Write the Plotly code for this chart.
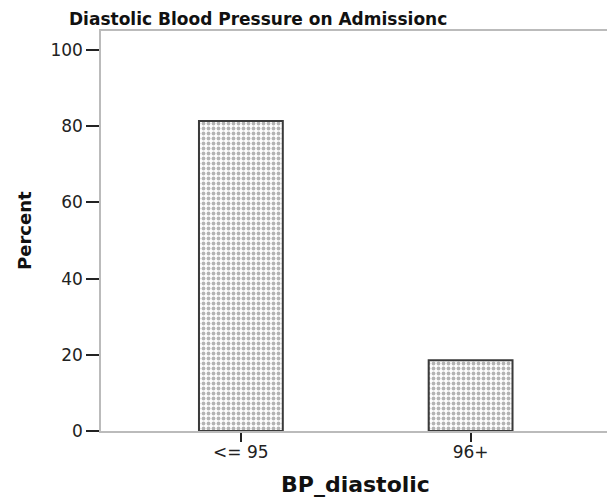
import plotly.graph_objects as go

categories = ["<= 95", "96+"]
percent = [81.4, 18.6]
y_ticks = [0, 20, 40, 60, 80, 100]

FONT = "DejaVu Sans"
OFF = 7  # page body margin offset
W, H = 615 - OFF, 500 - OFF
L, T = 100 - OFF, 30 - OFF
R = 0
B = H - (430 - OFF)
PW, PH = W - L - R, H - T - B


def px_x(px):
    return (px - OFF - L) / PW


def px_y(py):
    return (H - B - (py - OFF)) / PH


fig = go.Figure(go.Bar(
    x=[0, 1],
    y=percent,
    width=0.365,
    marker=dict(
        color="white",
        line=dict(color="#3a3a3a", width=2),
        pattern=dict(shape=".", fgcolor="#6a6a6a", bgcolor="white", size=5, solidity=0.45),
    ),
))

fig.update_layout(
    width=W, height=H,
    margin=dict(l=L, r=R, t=T, b=B, autoexpand=False),
    paper_bgcolor="white", plot_bgcolor="white",
    showlegend=False,
    xaxis=dict(
        range=[-0.609, 1.633], tickvals=[0, 1], ticktext=categories,
        showline=True, linecolor="#bbbbbb", linewidth=1.5, mirror=True,
        ticks="outside", ticklen=9, tickwidth=2, tickcolor="#222",
        ticklabelstandoff=-4,
        showgrid=False, zeroline=False, automargin=False,
        tickfont=dict(family=FONT, size=17, color="#222"),
    ),
    yaxis=dict(
        range=[0, 105], tickvals=y_ticks,
        showline=True, linecolor="#bbbbbb", linewidth=1.5,
        ticks="outside", ticklen=13, tickwidth=2, tickcolor="#222",
        showgrid=False, zeroline=False, automargin=False,
        tickfont=dict(family=FONT, size=17, color="#222"),
    ),
    annotations=[
        dict(text="<b>Diastolic Blood Pressure on Admissionc</b>",
             xref="paper", yref="paper", x=px_x(257), y=px_y(18),
             xanchor="center", yanchor="middle", showarrow=False,
             font=dict(family=FONT, size=17, color="#111")),
        dict(text="<b>BP_diastolic</b>",
             xref="paper", yref="paper", x=px_x(354), y=px_y(483),
             xanchor="center", yanchor="middle", showarrow=False,
             font=dict(family=FONT, size=22, color="#111")),
        dict(text="<b>Percent</b>", textangle=-90,
             xref="paper", yref="paper", x=px_x(23), y=px_y(230),
             xanchor="center", yanchor="middle", showarrow=False,
             font=dict(family=FONT, size=18, color="#111")),
    ],
)

fig.write_html("out.html")
